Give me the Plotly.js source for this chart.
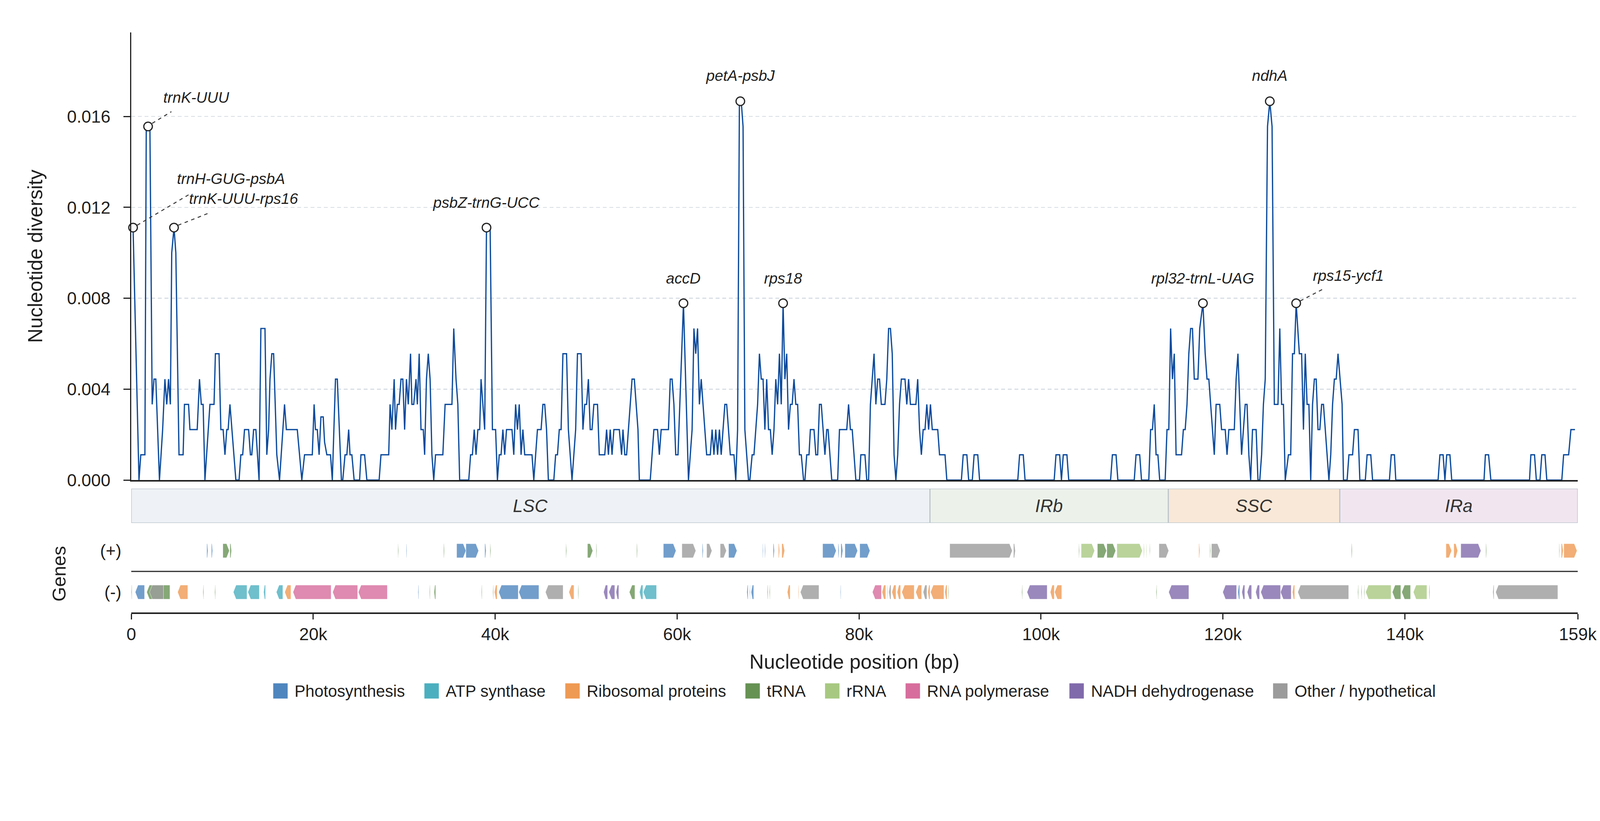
<!DOCTYPE html>
<html>
<head>
<meta charset="utf-8">
<script src="https://cdn.plot.ly/plotly-3.0.1.min.js"></script>
<style>
  html, body { margin: 0; padding: 0; background: #fff; overflow: hidden; }
</style>
</head>
<body>
<div id="chart"></div>
<script>
// Sliding-window nucleotide diversity along the plastome (turning points of the curve).
// Positions in kb, diversity (pi) as plotted.
const piPos = [
  0.2, 0.85, 1.05, 1.5, 1.65, 2.05, 2.3, 2.5, 2.7, 3.1,
  3.45, 3.7, 3.9, 4.1, 4.3, 4.45, 4.7, 4.9, 5.25, 5.7,
  5.85, 6.3, 6.45, 7.25, 7.5, 7.7, 7.9, 8.1, 8.65, 9.1,
  9.25, 9.65, 9.85, 10.1, 10.3, 10.5, 10.65, 10.85, 11.5, 11.85,
  12.05, 12.25, 12.45, 12.9, 13.1, 13.25, 13.45, 13.7, 14.05, 14.25,
  14.7, 14.9, 15.1, 15.25, 15.45, 15.65, 16.0, 16.3, 16.85, 17.05,
  18.25, 18.75, 19.05, 19.9, 20.1, 20.25, 20.45, 20.65, 20.85, 21.1,
  21.25, 21.5, 21.9, 22.1, 22.45, 22.65, 23.1, 23.25, 23.5, 23.7,
  23.9, 24.05, 24.25, 24.5, 25.1, 25.25, 25.65, 25.9,
  27.25, 27.45, 28.3, 28.45, 28.65, 28.9, 29.05, 29.25, 29.45, 29.65,
  29.85, 30.05, 30.25, 30.45, 30.7, 30.85, 31.05, 31.3, 31.45, 31.65,
  31.85, 32.1, 32.25, 32.45, 32.65, 32.85, 33.05, 33.25, 33.45, 34.25,
  34.5, 35.25, 35.45, 35.7, 35.9, 36.1, 37.1, 37.3, 37.5, 37.7,
  37.9, 38.1, 38.3, 38.45, 38.85, 39.05, 39.45, 39.7, 40.05, 40.25,
  40.45, 40.65, 40.85, 41.05, 41.25, 41.85, 42.05, 42.25, 42.45, 42.65,
  42.85, 43.05, 43.25, 44.05, 44.25, 44.65, 45.05, 45.25, 45.45, 45.65,
  45.85, 46.45, 46.65, 46.85, 47.05, 47.25, 47.45, 47.85, 48.05, 48.45,
  48.85, 49.05, 49.45, 49.65, 49.85, 50.05, 50.25, 50.45, 50.65, 50.85,
  51.25, 51.45, 52.05, 52.25, 52.45, 52.65,
  52.85, 53.05, 53.65, 53.9, 54.05, 54.25, 54.45, 55.05, 55.3, 55.7,
  55.85, 57.05, 57.45, 57.85, 58.05, 58.25, 59.05, 59.25, 59.45, 59.65,
  59.85, 60.1, 60.7, 61.25, 61.65, 61.85, 62.05, 62.25, 62.45, 62.65,
  63.25, 63.65, 63.85, 64.05, 64.25, 64.45, 64.65, 64.85, 65.25, 65.45,
  65.85, 66.25, 66.45, 66.65, 66.85, 67.05, 67.25, 67.45, 67.85, 68.0,
  68.25, 68.45, 68.85, 69.05, 69.25, 69.45, 69.65, 69.85, 70.05, 70.25,
  70.45, 70.65, 70.85, 71.05, 71.25, 71.45, 71.65, 71.85, 72.05, 72.25,
  72.45, 72.65, 72.85, 73.05, 73.25, 73.45, 73.65, 73.9, 74.05, 74.25,
  74.5, 74.65, 75.05, 75.25, 75.45, 75.65, 75.85, 76.25, 76.45, 76.6,
  77.0, 77.65, 77.85, 78.65, 78.85, 79.05,
  79.25, 79.65, 80.05, 80.2, 80.65, 80.85, 81.05, 81.25, 81.65, 81.85,
  82.05, 82.25, 82.45, 82.85, 83.05, 83.25, 83.45, 83.65, 83.85, 84.05,
  84.25, 84.45, 84.65, 85.05, 85.25, 85.45, 85.65, 86.25, 86.45, 86.65,
  86.85, 87.05, 87.25, 87.45, 87.65, 87.85, 88.05, 88.65, 88.85, 89.45,
  89.65, 91.25, 91.45, 91.85, 92.05, 92.45, 92.65, 93.05, 93.25, 97.45,
  97.65, 98.05, 98.25, 101.45, 101.65, 102.05, 102.25, 102.45, 102.85, 103.05,
  107.65, 107.85, 108.25, 108.45, 110.25, 110.45, 110.85, 111.05,
  111.85, 112.05, 112.25, 112.45, 112.65, 112.85, 113.05, 113.65, 113.85, 114.05,
  114.25, 114.45, 114.65, 114.85, 115.45, 115.65, 115.85, 116.05, 116.25, 116.45,
  116.65, 116.85, 117.25, 117.45, 117.8, 118.05, 118.25, 118.45, 119.05, 119.25,
  119.65, 119.85, 120.25, 120.45, 120.65, 121.25, 121.45, 121.65, 122.05, 122.45,
  122.65, 122.85, 123.05, 123.25, 123.65, 123.85, 124.05, 124.25, 124.45, 124.65,
  124.9, 125.15, 125.4, 125.65, 126.05, 126.25, 126.45, 126.65, 126.85, 127.2,
  127.45, 127.65, 127.85, 128.05, 128.4, 128.65, 128.85, 129.05, 129.25, 129.45,
  129.65, 129.85, 130.05, 130.25, 130.45, 130.65, 130.85, 131.05, 131.65, 131.85,
  132.05, 132.25, 132.45, 132.65, 133.1, 133.25, 133.65, 133.85, 134.25, 134.45,
  134.85, 135.05, 135.65, 135.85, 136.25, 136.45,
  138.3, 138.5, 138.85, 139.0, 143.65, 143.85, 144.2, 144.4, 144.6, 144.95,
  145.15, 148.7, 148.85, 149.2, 149.45, 153.7, 153.85, 154.25, 154.45, 154.85,
  155.05, 155.4, 155.6, 157.25, 157.45, 158.0, 158.25, 158.7
];
const piVal = [
  0.01111, 0, 0.00111, 0.00111, 0.01556, 0.01556, 0.00333, 0.00444, 0.00444, 0,
  0.00222, 0.00444, 0.00333, 0.00444, 0.00333, 0.01, 0.01111, 0.01, 0.00111, 0.00111,
  0.00333, 0.00333, 0.00222, 0.00222, 0.00444, 0.00333, 0.00333, 0, 0.00333, 0.00333,
  0.00556, 0.00556, 0.00222, 0.00222, 0.00111, 0.00222, 0.00222, 0.00333, 0, 0,
  0.00111, 0.00111, 0.00222, 0.00222, 0.00111, 0.00111, 0.00222, 0.00222, 0, 0.00667,
  0.00667, 0.00111, 0.00222, 0.00444, 0.00556, 0.00556, 0.00111, 0, 0.00333, 0.00222,
  0.00222, 0, 0.00111, 0.00111, 0.00333, 0.00222, 0.00222, 0.00111, 0.00278, 0.00278,
  0.00167, 0.00111, 0.00111, 0, 0.00444, 0.00444, 0, 0, 0.00111, 0.00111,
  0.00222, 0.00111, 0.00111, 0, 0, 0.00111, 0.00111, 0,
  0, 0.00111, 0.00111, 0.00333, 0.00222, 0.00444, 0.00222, 0.00333, 0.00333, 0.00444,
  0.00444, 0.00222, 0.00444, 0.00333, 0.00556, 0.00333, 0.00333, 0.00444, 0.00333, 0.00556,
  0.00222, 0.00222, 0.00111, 0.00444, 0.00556, 0.00444, 0.00111, 0, 0.00111, 0.00111,
  0.00333, 0.00333, 0.00667, 0.00444, 0.00333, 0, 0, 0.00111, 0.00111, 0.00222,
  0.00111, 0.00222, 0.00222, 0.00444, 0.00222, 0.01111, 0.01111, 0.00222, 0.00222, 0,
  0.00111, 0.00111, 0.00222, 0.00111, 0.00222, 0.00222, 0.00111, 0.00333, 0.00222, 0.00333,
  0.00111, 0.00222, 0.00111, 0.00111, 0, 0.00222, 0.00222, 0.00333, 0.00333, 0.00222,
  0, 0, 0.00111, 0.00111, 0.00222, 0.00222, 0.00556, 0.00556, 0.00222, 0,
  0.00222, 0.00556, 0.00556, 0.00222, 0.00333, 0.00333, 0.00444, 0.00222, 0.00222, 0.00333,
  0.00333, 0.00111, 0.00111, 0.00222, 0.00111, 0.00222,
  0.00111, 0.00222, 0.00222, 0.00111, 0.00222, 0.00111, 0.00111, 0.00444, 0.00444, 0.00222,
  0, 0, 0.00222, 0.00222, 0.00111, 0.00222, 0.00222, 0.00444, 0.00444, 0.00333,
  0.00111, 0.00111, 0.00778, 0, 0.00222, 0.00667, 0.00556, 0.00667, 0.00333, 0.00444,
  0.00111, 0.00111, 0.00222, 0.00111, 0.00222, 0.00111, 0.00222, 0.00111, 0.00333, 0.00333,
  0.00111, 0.00111, 0, 0.00222, 0.01667, 0.01667, 0.01556, 0.00222, 0, 0,
  0.00111, 0.00111, 0.00333, 0.00556, 0.00444, 0.00444, 0.00222, 0.00444, 0.00222, 0.00222,
  0.00111, 0.00222, 0.00444, 0.00333, 0.00556, 0.00333, 0.00778, 0.00444, 0.00556, 0.00222,
  0.00333, 0.00333, 0.00444, 0.00333, 0.00333, 0.00111, 0.00111, 0, 0, 0.00111,
  0.00111, 0.00222, 0.00222, 0.00111, 0.00111, 0.00333, 0.00333, 0.00111, 0.00222, 0.00222,
  0, 0, 0.00222, 0.00222, 0.00333, 0.00222,
  0.00222, 0, 0, 0.00111, 0.00111, 0, 0, 0.00333, 0.00556, 0.00333,
  0.00444, 0.00444, 0.00333, 0.00333, 0.00444, 0.00667, 0.00667, 0.00556, 0.00111, 0,
  0.00111, 0.00333, 0.00444, 0.00444, 0.00333, 0.00444, 0.00333, 0.00333, 0.00444, 0.00222,
  0.00111, 0.00222, 0.00222, 0.00333, 0.00222, 0.00333, 0.00222, 0.00222, 0.00111, 0.00111,
  0, 0, 0.00111, 0.00111, 0, 0, 0.00111, 0.00111, 0, 0,
  0.00111, 0.00111, 0, 0, 0.00111, 0.00111, 0, 0.00111, 0.00111, 0,
  0, 0.00111, 0.00111, 0, 0, 0.00111, 0.00111, 0,
  0, 0.00222, 0.00222, 0.00333, 0.00111, 0.00111, 0, 0, 0.00222, 0.00222,
  0.00667, 0.00444, 0.00556, 0.00111, 0.00111, 0.00222, 0.00222, 0.00333, 0.00556, 0.00667,
  0.00667, 0.00444, 0.00444, 0.00667, 0.00778, 0.00556, 0.00444, 0.00444, 0.00111, 0.00333,
  0.00333, 0.00222, 0.00222, 0.00111, 0.00222, 0.00222, 0.00444, 0.00556, 0.00111, 0.00333,
  0.00333, 0.00111, 0, 0.00222, 0.00222, 0, 0, 0.00111, 0.00333, 0.00444,
  0.01556, 0.01667, 0.01556, 0.00333, 0.00333, 0.00667, 0.00333, 0.00333, 0, 0.00111,
  0.00111, 0.00556, 0.00556, 0.00778, 0.00556, 0.00556, 0.00222, 0.00556, 0.00333, 0.00333,
  0, 0.00333, 0.00444, 0.00444, 0.00222, 0.00222, 0.00333, 0.00333, 0, 0.00111,
  0.00333, 0.00444, 0.00444, 0.00556, 0.00333, 0, 0, 0.00111, 0.00111, 0.00222,
  0.00222, 0, 0, 0.00111, 0.00111, 0,
  0, 0.00111, 0.00111, 0, 0, 0.00111, 0.00111, 0, 0.00111, 0.00111,
  0, 0, 0.00111, 0.00111, 0, 0, 0.00111, 0.00111, 0, 0,
  0.00111, 0.00111, 0, 0, 0.00111, 0.00111, 0.00222, 0.00222
];

// Highlighted hotspots
const peakLabels = ['trnH-GUG-psbA', 'trnK-UUU', 'trnK-UUU-rps16', 'psbZ-trnG-UCC', 'accD',
  'petA-psbJ', 'rps18', 'rpl32-trnL-UAG', 'ndhA', 'rps15-ycf1'];
const peakPos = [0.2, 1.85, 4.7, 39.05, 60.7, 66.95, 71.65, 117.8, 125.15, 128.05];
const peakPi = [0.01111, 0.01556, 0.01111, 0.01111, 0.00778, 0.01667, 0.00778, 0.00778, 0.01667, 0.00778];

// Quadripartite regions (kb)
const regionNames = ['LSC', 'IRb', 'SSC', 'IRa'];
const regionStart = [0, 87.8, 114.0, 132.85];
const regionEnd = [87.8, 114.0, 132.85, 159];

// Gene map (kb); strand +1 / -1
const groupKeys = ['ps', 'atp', 'rib', 'trn', 'rrn', 'rpo', 'ndh', 'oth'];
const groupNames = ['Photosynthesis', 'ATP synthase', 'Ribosomal proteins', 'tRNA', 'rRNA',
  'RNA polymerase', 'NADH dehydrogenase', 'Other / hypothetical'];

const geneStart = [
  8.30, 8.81, 10.07, 10.85, 29.31, 30.23, 34.34, 35.77, 36.79, 38.86,
  39.44, 47.77, 50.15, 51.10, 55.56, 58.49, 60.53, 62.77, 63.25, 64.74,
  65.66, 69.40, 69.64, 70.56, 71.14, 71.51, 76.00, 77.70, 78.01, 78.45,
  80.08, 89.97, 96.98, 104.15, 104.42, 106.20, 107.24, 108.34, 111.28, 111.56,
  111.94, 112.97, 117.35, 118.56, 118.74, 134.13, 144.52, 145.38, 146.15, 148.90,
  156.95, 157.19, 157.47,
  0.00, 0.44, 1.70, 2.01, 5.10, 7.89, 9.18, 11.22, 12.82, 14.55,
  15.95, 16.87, 17.78, 22.14, 24.96, 31.52, 32.78, 33.29, 38.49, 39.75,
  39.92, 40.39, 42.60, 45.53, 48.11, 49.10, 51.92, 52.50, 53.29, 54.75,
  55.87, 56.28, 67.67, 67.97, 68.14, 69.91, 70.15, 72.12, 73.31, 73.55,
  77.94, 81.47, 82.53, 83.10, 83.27, 83.61, 84.19, 84.70, 86.23, 87.05,
  87.56, 87.86, 89.43, 89.80, 97.89, 98.47, 101.02, 101.50, 112.66, 114.04,
  119.98, 121.64, 122.08, 122.67, 123.60, 124.16, 126.33, 127.64, 128.23, 134.82,
  135.20, 135.51, 135.69, 138.62, 139.66, 140.93, 142.65, 149.67, 149.98
];
const geneEnd = [
  8.43, 8.94, 10.78, 11.02, 29.38, 30.30, 34.42, 36.79, 38.18, 39.00,
  39.52, 47.85, 50.73, 51.18, 55.64, 59.88, 62.06, 62.87, 63.83, 65.42,
  66.58, 69.47, 69.71, 70.69, 71.27, 71.82, 77.49, 77.80, 78.21, 79.84,
  81.20, 96.84, 97.18, 104.22, 105.89, 107.20, 108.21, 111.14, 111.36, 111.63,
  112.00, 114.04, 117.46, 118.64, 119.70, 134.21, 145.14, 145.80, 148.36, 148.98,
  157.02, 157.40, 158.92,
  0.08, 1.46, 4.25, 3.54, 6.22, 7.97, 9.26, 12.72, 14.08, 14.76,
  16.66, 17.55, 21.97, 24.89, 28.15, 31.60, 32.85, 33.46, 38.56, 39.82,
  40.22, 42.54, 44.81, 47.47, 48.66, 49.17, 52.36, 53.15, 53.59, 55.36,
  56.24, 57.74, 67.80, 68.04, 68.42, 69.99, 70.22, 72.43, 73.38, 75.59,
  78.01, 82.46, 82.93, 83.17, 83.51, 84.06, 84.57, 86.06, 86.88, 87.46,
  87.80, 89.33, 89.67, 89.87, 97.97, 100.68, 101.46, 102.28, 112.74, 116.25,
  121.50, 121.84, 122.40, 123.15, 124.02, 126.33, 127.50, 127.88, 133.82, 134.90,
  135.27, 135.58, 138.48, 139.55, 140.62, 142.42, 142.73, 149.80, 156.81
];
const geneStrand = [
  1, 1, 1, 1, 1, 1, 1, 1, 1, 1,
  1, 1, 1, 1, 1, 1, 1, 1, 1, 1,
  1, 1, 1, 1, 1, 1, 1, 1, 1, 1,
  1, 1, 1, 1, 1, 1, 1, 1, 1, 1,
  1, 1, 1, 1, 1, 1, 1, 1, 1, 1,
  1, 1, 1,
  -1, -1, -1, -1, -1, -1, -1, -1, -1, -1,
  -1, -1, -1, -1, -1, -1, -1, -1, -1, -1,
  -1, -1, -1, -1, -1, -1, -1, -1, -1, -1,
  -1, -1, -1, -1, -1, -1, -1, -1, -1, -1,
  -1, -1, -1, -1, -1, -1, -1, -1, -1, -1,
  -1, -1, -1, -1, -1, -1, -1, -1, -1, -1,
  -1, -1, -1, -1, -1, -1, -1, -1, -1, -1,
  -1, -1, -1, -1, -1, -1, -1, -1, -1
];
const geneGroup = [
  'ps', 'ps', 'trn', 'trn', 'trn', 'ps', 'trn', 'ps', 'ps', 'ps',
  'trn', 'trn', 'trn', 'trn', 'trn', 'ps', 'oth', 'ps', 'oth', 'oth',
  'ps', 'ps', 'ps', 'ps', 'rib', 'rib', 'ps', 'ps', 'ps', 'ps',
  'ps', 'oth', 'oth', 'trn', 'rrn', 'trn', 'trn', 'rrn', 'rrn', 'rrn',
  'trn', 'oth', 'rib', 'trn', 'oth', 'trn', 'rib', 'rib', 'ndh', 'trn',
  'trn', 'rib', 'rib',
  'trn', 'ps', 'trn', 'oth', 'rib', 'trn', 'trn', 'atp', 'atp', 'atp',
  'atp', 'rib', 'rpo', 'rpo', 'rpo', 'ps', 'trn', 'trn', 'trn', 'trn',
  'rib', 'ps', 'ps', 'oth', 'rib', 'trn', 'ndh', 'ndh', 'ndh', 'trn',
  'atp', 'atp', 'ps', 'ps', 'ps', 'trn', 'trn', 'rib', 'rib', 'oth',
  'ps', 'rpo', 'rib', 'oth', 'oth', 'rib', 'rib', 'rib', 'rib', 'oth',
  'rib', 'rib', 'rib', 'trn', 'trn', 'ndh', 'rib', 'rib', 'trn', 'ndh',
  'ndh', 'ps', 'ndh', 'ndh', 'ndh', 'ndh', 'ndh', 'rib', 'oth', 'trn',
  'trn', 'trn', 'rrn', 'trn', 'trn', 'rrn', 'trn', 'oth', 'oth'
];

// axis ticks
const xTickVals = [0, 20, 40, 60, 80, 100, 120, 140, 159];
const xTickText = ['0', '20k', '40k', '60k', '80k', '100k', '120k', '140k', '159k'];
const strandTickVals = [1, -1];
const strandTickText = ['(+)', '(-)'];

// ---- page size: the design is 4322 x 2102, fitted to whatever the window really is ----
const REF_W = 4322, REF_H = 2102;
const W = window.innerWidth || REF_W;
const H = window.innerHeight || REF_H;
const SX = W / REF_W, SY = H / REF_H;
const sx = (v) => v * SX;
const sy = (v) => v * SY;
const fs = (v) => Math.round(v * Math.min(SX, SY) * 10) / 10;
const PAD = '\u00a0\u00a0';  // keeps tick labels clear of the spine

// ---- styling ----
const FONT = 'Liberation Sans, Arial, sans-serif';
const INK = '#1f1f1f';
const LINE_BLUE = '#0b4a9c';
const GROUP_COLORS = {
  ps: '#4f86be', atp: '#4bafbf', rib: '#ef9a54', trn: '#669254',
  rrn: '#a7c881', rpo: '#d76d9c', ndh: '#816aab', oth: '#9b9b9b',
};
const REGION_FILL = ['#eef2f6', '#ecf2ea', '#f9e8d7', '#f1e6f0'];
// label offsets from the hotspot circle (design px, right / up)
const LABEL_DX = [265, 130, 188, 0, 0, 0, 0, 0, 0, 141];
const LABEL_DY = [125, 74, 74, 64, 64, 66, 64, 64, 66, 71];
// dashed leaders for the labels that sit off to the side: [x0, y0, x1, y1] design px
const LEADERS = {
  'trnH-GUG-psbA': [11, 6, 150, 84],
  'trnK-UUU': [11, 8, 63, 38],
  'trnK-UUU-rps16': [11, 6, 91, 36],
  'rps15-ycf1': [11, 6, 72, 36],
};

const M = { l: sx(355), r: sx(60), t: sy(83), b: sy(534) };
const plotW = W - M.l - M.r;
const plotH = H - M.t - M.b;
const bottomPx = H - M.b;
const frac = (py) => (bottomPx - sy(py)) / plotH;  // design page y -> paper y

const HEAD = 0.3;   // arrow head length (kb)
const HALF = 0.34;  // half gene height (track units)

function rgba(hex, a) {
  const n = parseInt(hex.slice(1), 16);
  return `rgba(${(n >> 16) & 255},${(n >> 8) & 255},${n & 255},${a})`;
}

function geneTrace(key) {
  const xs = [], ys = [];
  geneStart.forEach((s, i) => {
    if (geneGroup[i] !== key) return;
    const e = geneEnd[i];
    const yc = geneStrand[i] > 0 ? 1 : -1;
    const h = Math.min(HEAD, (e - s) * 0.5);
    const top = yc + HALF, bot = yc - HALF;
    if (geneStrand[i] > 0) {
      xs.push(s, e - h, e, e - h, s, s, null);
    } else {
      xs.push(e, s + h, s, s + h, e, e, null);
    }
    ys.push(top, top, yc, bot, bot, top, null);
  });
  return {
    x: xs, y: ys, xaxis: 'x3', yaxis: 'y3',
    type: 'scatter', mode: 'lines', fill: 'toself',
    fillcolor: rgba(GROUP_COLORS[key], 0.8),
    line: { color: 'rgba(255,255,255,0.9)', width: 0.8 },
    hoverinfo: 'skip', showlegend: false,
  };
}

const traces = [
  ...groupKeys.map(geneTrace),
  {
    x: piPos, y: piVal, type: 'scatter', mode: 'lines',
    line: { color: LINE_BLUE, width: 3.2 },
    hoverinfo: 'skip', showlegend: false,
  },
  {
    x: peakPos, y: peakPi, type: 'scatter', mode: 'markers',
    marker: { symbol: 'circle', size: 22, color: '#ffffff', line: { color: '#222', width: 3 } },
    cliponaxis: false, hoverinfo: 'skip', showlegend: false,
  },
];

const shapes = [];
const annotations = [];

// regions band
regionNames.forEach((name, i) => {
  shapes.push({
    type: 'rect', xref: 'x2', yref: 'y2',
    x0: regionStart[i], x1: regionEnd[i], y0: 0, y1: 1,
    fillcolor: REGION_FILL[i], line: { color: '#b7c1cb', width: 2.5 }, layer: 'below',
  });
  annotations.push({
    xref: 'x2', yref: 'y2', x: (regionStart[i] + regionEnd[i]) / 2, y: 0.5,
    text: `<i>${name}</i>`, showarrow: false,
    font: { family: FONT, size: fs(48), color: '#333' },
  });
});

// strand separator
shapes.push({
  type: 'line', xref: 'paper', yref: 'y3', x0: 0, x1: 1, y0: 0, y1: 0,
  line: { color: '#2a2a2a', width: 3 },
});

// hotspot labels + leaders
peakLabels.forEach((lab, i) => {
  annotations.push({
    xref: 'x', yref: 'y', x: peakPos[i], y: peakPi[i],
    xshift: sx(LABEL_DX[i]), yshift: sy(LABEL_DY[i]),
    text: `<i>${lab}</i>`, showarrow: false,
    font: { family: FONT, size: fs(41), color: INK },
  });
  const ld = LEADERS[lab];
  if (ld) {
    shapes.push({
      type: 'line', xref: 'x', yref: 'y',
      xsizemode: 'pixel', ysizemode: 'pixel',
      xanchor: peakPos[i], yanchor: peakPi[i],
      x0: sx(ld[0]), y0: sy(ld[1]), x1: sx(ld[2]), y1: sy(ld[3]),
      line: { color: '#3a3a3a', width: 2.5, dash: 'dash' },
    });
  }
});

// legend row, centred under the plot
const LEG_FONT = fs(44), SW = sx(39), SH = sy(39), GAP_TXT = sx(19), GAP_ITEM = sx(52), LEG_Y = 1769;
const ctx = document.createElement('canvas').getContext('2d');
ctx.font = `${LEG_FONT}px "Liberation Sans"`;
const widths = groupNames.map((t) => SW + GAP_TXT + ctx.measureText(t).width);
const total = widths.reduce((a, b) => a + b, 0) + GAP_ITEM * (groupNames.length - 1);
let cursor = (plotW - total) / 2;
groupNames.forEach((name, i) => {
  shapes.push({
    type: 'rect', xref: 'paper', yref: 'paper',
    x0: cursor / plotW, x1: (cursor + SW) / plotW,
    y0: frac(LEG_Y) - SH / 2 / plotH, y1: frac(LEG_Y) + SH / 2 / plotH,
    fillcolor: GROUP_COLORS[groupKeys[i]], line: { width: 0 },
  });
  annotations.push({
    xref: 'paper', yref: 'paper', x: (cursor + SW + GAP_TXT - 2) / plotW, y: frac(LEG_Y),
    xanchor: 'left', yanchor: 'middle', text: name, showarrow: false,
    font: { family: FONT, size: LEG_FONT, color: INK },
  });
  cursor += widths[i] + GAP_ITEM;
});

const axisLine = { showline: true, linecolor: '#222', linewidth: 3.5, zeroline: false };

const layout = {
  width: W, height: H,
  margin: M,
  paper_bgcolor: '#fff', plot_bgcolor: '#fff',
  font: { family: FONT, color: INK },
  showlegend: false,
  xaxis: {
    ...axisLine, domain: [0, 1], range: [0, 159], anchor: 'y',
    ticks: '', showticklabels: false, showgrid: false,
  },
  yaxis: {
    ...axisLine, domain: [frac(1229), 1], range: [0, 0.0197], anchor: 'x',
    tick0: 0, dtick: 0.004, tickformat: '.3f', ticksuffix: PAD,
    ticks: 'outside', ticklen: sx(17), tickwidth: 3, tickcolor: '#222',
    tickfont: { size: fs(47), color: INK },
    showgrid: true, gridcolor: '#d8dee4', gridwidth: 2.5, griddash: '10px,7px',
    title: { text: 'Nucleotide diversity', font: { size: fs(54), color: INK }, standoff: sx(50) },
  },
  xaxis2: {
    domain: [0, 1], range: [0, 159], anchor: 'y2', matches: 'x', visible: false,
  },
  yaxis2: {
    domain: [frac(1339), frac(1251)], range: [0, 1], anchor: 'x2', visible: false,
  },
  xaxis3: {
    ...axisLine, domain: [0, 1], range: [0, 159], anchor: 'y3', matches: 'x',
    tickvals: xTickVals, ticktext: xTickText,
    ticks: 'outside', ticklen: sy(14), tickwidth: 3, tickcolor: '#222',
    tickfont: { size: fs(47), color: INK }, showgrid: false,
    title: { text: 'Nucleotide position (bp)', font: { size: fs(54), color: INK }, standoff: sy(30) },
  },
  yaxis3: {
    domain: [0, frac(1370)], range: [-1.98, 1.755], anchor: 'x3',
    tickvals: strandTickVals, ticktext: strandTickText.map((t) => t + PAD), ticks: '',
    showline: false, showgrid: false, zeroline: false,
    tickfont: { size: fs(46), color: INK },
    title: { text: 'Genes', font: { size: fs(51), color: INK }, standoff: sx(76) },
  },
  shapes,
  annotations,
};

Plotly.newPlot('chart', traces, layout, { displayModeBar: false, responsive: false, staticPlot: true });
</script>
</body>
</html>
